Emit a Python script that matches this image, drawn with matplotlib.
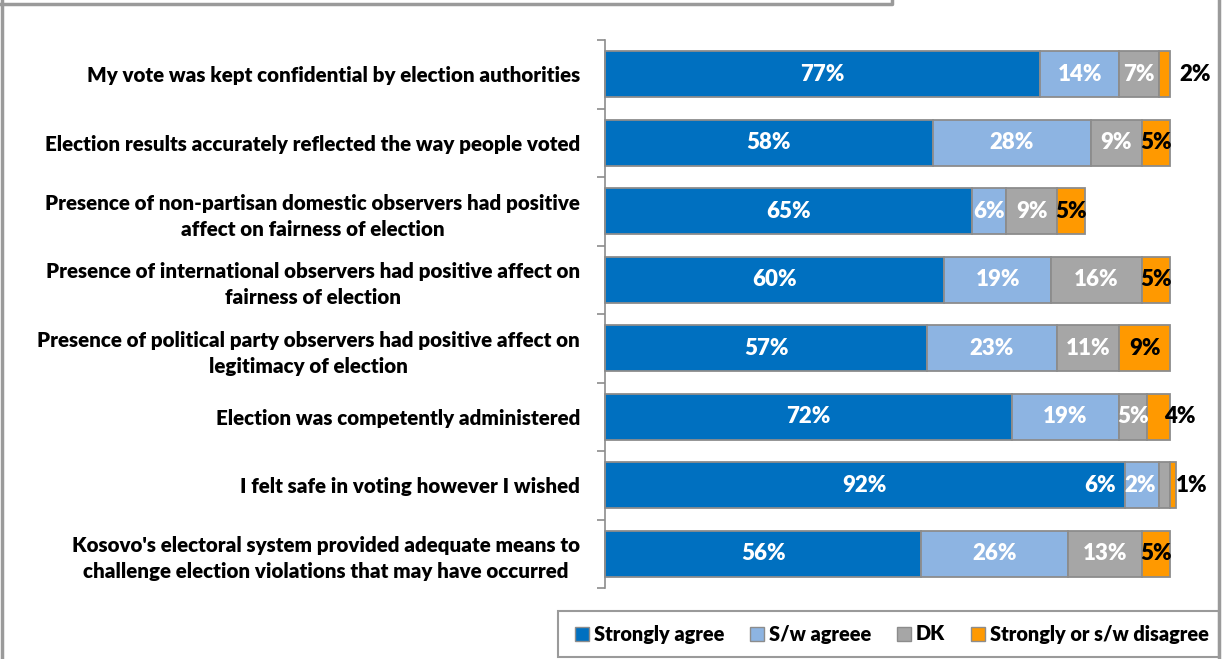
import numpy as np
import matplotlib.pyplot as plt
from matplotlib.lines import Line2D
from matplotlib.patches import Rectangle, Patch

plt.rcParams['font.family'] = ['Lato', 'DejaVu Sans']
plt.rcParams['font.weight'] = 'bold'

# survey statements, top to bottom
statements = [
    "My vote was kept confidential by election authorities",
    "Election results accurately reflected the way people voted",
    "Presence of non-partisan domestic observers had positive\naffect on fairness of election",
    "Presence of international observers had positive affect on\nfairness of election",
    "Presence of political party observers had positive affect on\nlegitimacy of election",
    "Election was competently administered",
    "I felt safe in voting however I wished",
    "Kosovo's electoral system provided adequate means to\nchallenge election violations that may have occurred",
]

series_names = ["Strongly agree", "S/w agreee", "DK", "Strongly or s/w disagree"]
strongly_agree = [77, 58, 65, 60, 57, 72, 92, 56]
sw_agree = [14, 28, 6, 19, 23, 19, 6, 26]
dont_know = [7, 9, 9, 16, 11, 5, 2, 13]
disagree = [2, 5, 5, 5, 9, 4, 1, 5]

colors = ["#0070C0", "#8DB4E2", "#A6A6A6", "#FF9900"]
label_colors = ["white", "white", "white", "black"]
edge = "#8C8C8C"

# nudges (in % units) for labels that would not fit in their segment
label_shift = {(0, 3): 5.5, (5, 3): 3.7, (6, 1): -7.4, (6, 2): -4.2, (6, 3): 3.4}

W, H = 1224, 659
fig = plt.figure(figsize=(W / 100, H / 100), dpi=100)
ax = fig.add_axes([605 / W, 1 - 588 / H, 565 / W, 548 / H])

series = [strongly_agree, sw_agree, dont_know, disagree]
y = np.arange(len(statements))
left = np.zeros(len(statements))
for k, vals in enumerate(series):
    vals = np.array(vals, dtype=float)
    ax.barh(y, vals, left=left, height=0.67, color=colors[k],
            edgecolor=edge, linewidth=1.3, clip_on=False, zorder=2)
    for i, v in enumerate(vals):
        cx = left[i] + v / 2 + label_shift.get((i, k), 0)
        ax.text(cx, y[i], f"{v:.0f}%", ha="center", va="center",
                color=label_colors[k], fontsize=16, fontweight="heavy",
                zorder=3, clip_on=False)
    left += vals

ax.set_xlim(0, 100)
ax.set_ylim(len(statements) - 0.5, -0.5)
ax.set_xticks([])
ax.set_yticks(y)
ax.set_yticklabels(statements, fontsize=14.8, fontweight="heavy",
                   multialignment="center", linespacing=1.45)
ax.set_yticks(np.arange(len(statements) + 1) - 0.5, minor=True)
ax.tick_params(axis="y", which="major", length=0, pad=18)
ax.tick_params(axis="y", which="minor", length=6, width=1.2, color=edge)
for side in ["top", "right", "bottom"]:
    ax.spines[side].set_visible(False)
ax.spines["left"].set_color(edge)
ax.spines["left"].set_linewidth(1.2)

# chart frame pieces
frame = "#9A9A9A"
fig.add_artist(Line2D([0, 892 / W, 892 / W], [1 - 4 / H, 1 - 4 / H, 1], color=frame, lw=2.5,
                      transform=fig.transFigure))
fig.add_artist(Line2D([1.5 / W, 1.5 / W], [0, 1], color=frame, lw=2.5, transform=fig.transFigure))
fig.add_artist(Line2D([1219 / W, 1219 / W], [0, 1], color=frame, lw=2.5, transform=fig.transFigure))

# legend box
fig.add_artist(Rectangle((558 / W, 1 - 657 / H), (1219 - 558) / W, (657 - 611) / H,
                         transform=fig.transFigure, facecolor="white",
                         edgecolor=frame, lw=1.5))
handles = [Patch(facecolor=c, edgecolor=edge, linewidth=1) for c in colors]
fig.legend(handles, series_names, loc="center", ncol=4,
           bbox_to_anchor=(892 / W, 1 - 634 / H), frameon=False,
           prop={"size": 14.3, "weight": "heavy"}, handlelength=0.7,
           handleheight=0.7, handletextpad=0.25, columnspacing=1.3)

fig.savefig("out.png", dpi=100)
